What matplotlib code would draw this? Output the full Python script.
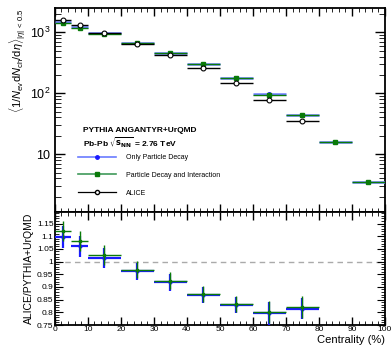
import matplotlib
matplotlib.use("Agg")
import matplotlib.pyplot as plt
import numpy as np
from matplotlib.ticker import MultipleLocator, FixedLocator, NullFormatter, LogLocator
from matplotlib.lines import Line2D

plt.rcParams["font.family"] = ["Liberation Sans", "DejaVu Sans"]
plt.rcParams["mathtext.fontset"] = "custom"
plt.rcParams["mathtext.rm"] = "Liberation Sans"
plt.rcParams["mathtext.it"] = "Liberation Sans:italic"
plt.rcParams["mathtext.bf"] = "Liberation Sans:bold"

# centrality bins
bin_lo = [0, 5, 10, 20, 30, 40, 50, 60, 70, 80, 90]
bin_hi = [5, 10, 20, 30, 40, 50, 60, 70, 80, 90, 100]

# dNch/deta
decay_only = [1460, 1222, 956, 673, 462, 305, 181, 96, 44, 15.7, 3.45]
decay_inter = [1430, 1198, 942, 670, 459, 301, 179, 95, 43.5, 15.6, 3.45]
alice = [1601, 1294, 966, 649, 426, 261, 149, 76, 35.5]

# ratio ALICE / model
ratio_decay = [1.097, 1.060, 1.014, 0.961, 0.919, 0.868, 0.828, 0.796, 0.815]
ratio_decay_err = [0.045, 0.042, 0.040, 0.035, 0.034, 0.032, 0.032, 0.045, 0.042]
ratio_inter = [1.120, 1.080, 1.027, 0.968, 0.924, 0.873, 0.833, 0.801, 0.821]
ratio_inter_err = [0.040, 0.040, 0.040, 0.033, 0.034, 0.032, 0.032, 0.045, 0.042]

lo = np.array(bin_lo, float)
hi = np.array(bin_hi, float)
xc = (lo + hi) / 2
xe = (hi - lo) / 2

blue = "#1a1aff"
blue_l = "#6a7cff"
green = "#0a7a0a"
green_l = "#3f9a5a"

fig = plt.figure(figsize=(3.92, 3.5), dpi=100)
ax = fig.add_axes([0.140, 0.394, 0.842, 0.583])
axr = fig.add_axes([0.140, 0.0714, 0.842, 0.3226], sharex=ax)

ax.errorbar(xc, decay_only, xerr=xe, fmt="o", ms=2.5, color=blue, ecolor=blue_l, elinewidth=1.8, capsize=0, zorder=3)
ax.errorbar(xc, decay_inter, xerr=xe, fmt="s", ms=2.5, color=green, ecolor=green, elinewidth=1.0, capsize=0, zorder=4)
n = len(alice)
ax.errorbar(xc[:n], alice, xerr=xe[:n], fmt="o", ms=3.5, mfc="white", mec="black", mew=0.8,
            color="black", ecolor="black", elinewidth=1.0, capsize=0, zorder=5)

ax.set_yscale("log")
ax.set_ylim(1.12, 2500)
ax.set_xlim(0, 100)
ax.yaxis.set_major_locator(FixedLocator([10, 100, 1000]))
ax.set_yticklabels(["10", "$10^2$", "$10^3$"])
ax.yaxis.set_minor_locator(LogLocator(base=10, subs=np.arange(2, 10)))
ax.yaxis.set_minor_formatter(NullFormatter())
ax.tick_params(axis="y", which="major", labelsize=9, length=7, direction="in", right=True, width=1)
ax.tick_params(axis="y", which="minor", length=4, direction="in", right=True)
ax.set_ylabel(r"$\langle 1/N_{\rm ev}{\rm d}N_{\rm ch}/{\rm d}\eta\rangle_{|\eta|\,<\,0.5}$", fontsize=8, loc="top", labelpad=1)

ax.text(0.085, 0.395, "PYTHIA ANGANTYR+UrQMD", transform=ax.transAxes, fontsize=6, fontweight="bold")
ax.text(0.085, 0.325, r"Pb-Pb $\sqrt{\mathbf{s}_{\mathbf{NN}}}$ = 2.76 TeV", transform=ax.transAxes,
        fontsize=6, fontweight="bold", math_fontfamily="dejavusans")

leg_handles = [
    Line2D([], [], color=blue_l, lw=1.2, marker="o", ms=2.5, mfc=blue, mec=blue),
    Line2D([], [], color=green_l, lw=1.2, marker="s", ms=2.5, mfc=green, mec=green),
    Line2D([], [], color="black", lw=0.9, marker="o", ms=3, mfc="white", mec="black"),
]
leg_labels = ["Only Particle Decay", "Particle Decay and Interaction", "ALICE"]
ax.legend(leg_handles, leg_labels, loc="lower left", bbox_to_anchor=(0.05, 0.045), frameon=False,
          fontsize=5, handlelength=5.5, handletextpad=1.5, labelspacing=1.55)

# ratio panel
axr.errorbar(xc[:n], ratio_decay, xerr=xe[:n], yerr=ratio_decay_err, fmt="o", ms=2, color=blue,
             ecolor=blue, elinewidth=1.6, capsize=0, zorder=3)
axr.errorbar(xc[:n], ratio_inter, xerr=xe[:n], yerr=ratio_inter_err, fmt="s", ms=2, color=green,
             ecolor=green, elinewidth=1.0, capsize=0, zorder=4)
axr.axhline(1.0, color="#aaaaaa", ls=(0, (4, 3)), lw=1.0, zorder=1)
axr.set_ylim(0.75, 1.195)
axr.yaxis.set_major_locator(FixedLocator([0.75, 0.8, 0.85, 0.9, 0.95, 1.0, 1.05, 1.1, 1.15]))
axr.set_yticklabels(["0.75", "0.8", "0.85", "0.9", "0.95", "1", "1.05", "1.1", "1.15"])
axr.yaxis.set_minor_locator(MultipleLocator(0.01))
axr.tick_params(axis="y", which="major", labelsize=6, length=6, direction="in", right=True, pad=1)
axr.tick_params(axis="y", which="minor", length=3, direction="in", right=True)
axr.set_ylabel("ALICE/PYTHIA+UrQMD", fontsize=7.5, labelpad=2)

for a in (ax, axr):
    a.xaxis.set_major_locator(MultipleLocator(10))
    a.xaxis.set_minor_locator(MultipleLocator(2))
    a.tick_params(axis="x", which="major", length=6, direction="in", top=True, width=1)
    a.tick_params(axis="x", which="minor", length=3, direction="in", top=True)
    for sp in a.spines.values():
        sp.set_linewidth(1.3)
ax.tick_params(axis="x", labelbottom=False)
axr.tick_params(axis="x", labelsize=6, pad=1)
axr.set_xlabel("Centrality (%)", fontsize=8, loc="right", labelpad=1)

fig.savefig("out.png", dpi=100)
